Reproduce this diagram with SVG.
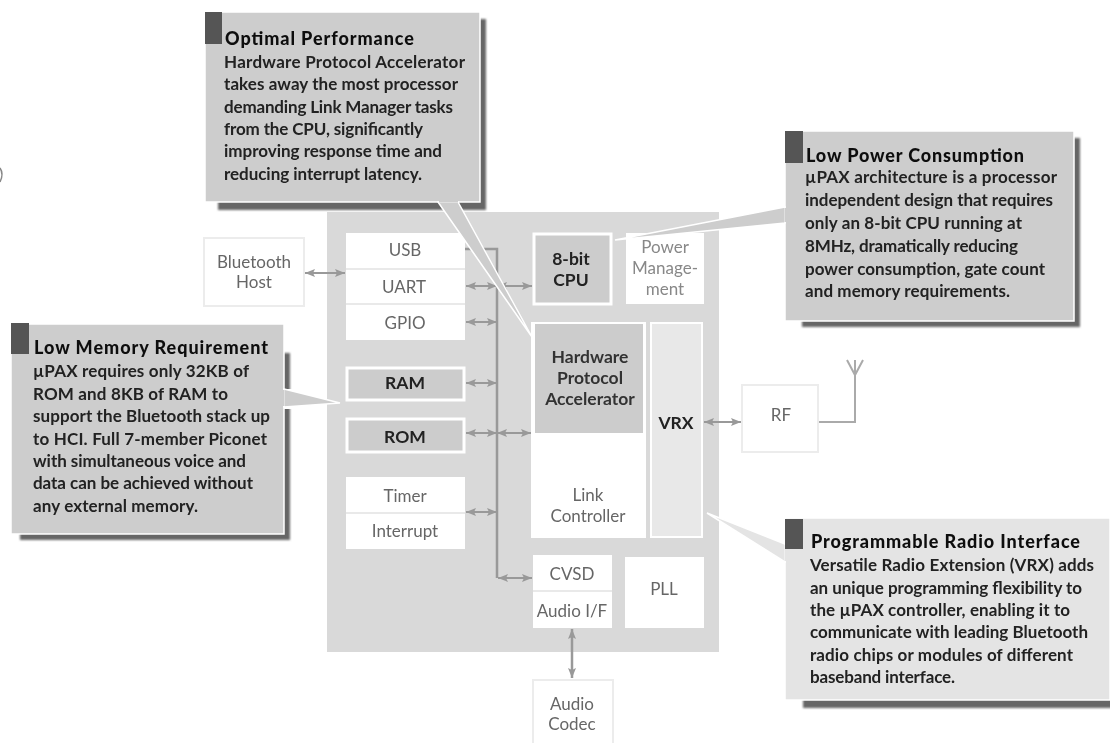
<svg xmlns="http://www.w3.org/2000/svg" width="1110" height="743" viewBox="0 0 1110 743">
<style>
text{font-family:Lato,"Liberation Sans",sans-serif}
.b{font-size:17px;fill:#222;font-weight:700;stroke:none}
.h{font-size:18px;fill:#111;font-weight:900}
.n{font-size:17px;fill:#666;text-anchor:middle}
.d{font-size:17.5px;fill:#222;text-anchor:middle;font-weight:700}
.w{fill:#fff}
.o{fill:#fff;stroke:#ececec;stroke-width:2}
.g{fill:#ccc;stroke:#fff;stroke-width:3}
.c{fill:#cdcdcd;stroke:#fff;stroke-width:1.5}
.s{fill:#666;filter:url(#sb)}
.k{fill:#555}
.p{fill:#cdcdcd;stroke:#fff;stroke-width:1.5}
.l{stroke:#e2e2e2;stroke-width:1.5}
.a{stroke:#999;stroke-width:2;fill:none;marker-start:url(#m);marker-end:url(#m)}
.t{stroke:#999;stroke-width:2.5;fill:none}
</style>
<defs>
<filter id="sb" x="-5%" y="-5%" width="110%" height="110%"><feGaussianBlur stdDeviation="1.2"/></filter>
<filter id="all" x="0" y="0" width="100%" height="100%"><feGaussianBlur stdDeviation="0.55"/></filter>
<marker id="m" markerWidth="11" markerHeight="8" refX="10" refY="4" orient="auto-start-reverse" markerUnits="userSpaceOnUse"><path d="M0 0L10 4L0 8L2 4Z" fill="#999"/></marker>
</defs>
<rect width="1110" height="743" fill="#fff"/>
<g filter="url(#all)">
<path d="M0 168Q4 174 0 182" fill="none" stroke="#888" stroke-width="1.5"/>
<rect id="chip" x="327" y="212" width="392" height="440" fill="#d9d9d9"/>

<g id="bluetooth-host"><rect class="o" x="204" y="238" width="100" height="68"/><text class="n" x="254" y="268">Bluetooth</text><text class="n" x="254" y="288">Host</text></g>
<g id="usb-uart-gpio"><rect class="w" x="346" y="233" width="119" height="107"/><path class="l" d="M346 269H465M346 304H465"/><text class="n" x="405" y="256">USB</text><text class="n" x="404" y="293">UART</text><text class="n" x="405" y="329">GPIO</text></g>
<g id="ram"><rect class="g" x="347" y="368" width="117" height="32"/><text class="d" x="405" y="389">RAM</text></g>
<g id="rom"><rect class="g" x="347" y="419" width="117" height="33"/><text class="d" x="405" y="443">ROM</text></g>
<g id="timer-interrupt"><rect class="w" x="346" y="477" width="119" height="72"/><path class="l" d="M346 513H465"/><text class="n" x="405" y="502">Timer</text><text class="n" x="405" y="537">Interrupt</text></g>
<g id="cpu"><rect class="g" x="534" y="234" width="77" height="70"/><text class="d" x="571" y="265">8-bit</text><text class="d" x="571" y="286">CPU</text></g>
<g id="power"><rect class="w" x="626" y="233" width="78" height="71"/><text class="n" x="665" y="253" style="fill:#888">Power</text><text class="n" x="665" y="274" style="fill:#888">Manage-</text><text class="n" x="665" y="295" style="fill:#888">ment</text></g>
<g id="link-controller"><rect class="w" x="531" y="322" width="115" height="216"/><rect x="535" y="324" width="108" height="109" fill="#ccc"/><text class="d" x="590" y="363" style="fill:#333">Hardware</text><text class="d" x="590" y="384" style="fill:#333">Protocol</text><text class="d" x="590" y="405" style="fill:#333">Accelerator</text><text class="n" x="588" y="501">Link</text><text class="n" x="588" y="522">Controller</text></g>
<g id="vrx"><rect x="651" y="323" width="51" height="214" fill="#e8e8e8" stroke="#fff" stroke-width="2"/><text class="d" x="676" y="429">VRX</text></g>
<g id="cvsd-audio"><rect class="w" x="533" y="555" width="79" height="73"/><path class="l" d="M533 591H612"/><text class="n" x="572" y="580">CVSD</text><text class="n" x="572" y="617">Audio I/F</text></g>
<g id="pll"><rect class="w" x="625" y="557" width="79" height="71"/><text class="n" x="664" y="595">PLL</text></g>
<g id="audio-codec"><rect class="o" x="533" y="680" width="80" height="70"/><text class="n" x="572" y="710">Audio</text><text class="n" x="572" y="730">Codec</text></g>
<g id="rf"><rect class="o" x="742" y="385" width="76" height="67"/><text class="n" x="781" y="421">RF</text></g>

<g id="connectors">
<path class="t" d="M465 249H497V578"/>
<path class="a" d="M305 273H345"/>
<path class="a" d="M466 286H497"/>
<path class="a" d="M497 286H532"/>
<path class="a" d="M466 322H497"/>
<path class="a" d="M466 383H497"/>
<path class="a" d="M466 433H497"/>
<path class="a" d="M497 433H531"/>
<path class="a" d="M466 512H497"/>
<path class="a" d="M498 578H532"/>
<path class="a" d="M704 422H741"/>
<path class="a" style="stroke-width:2.5" d="M572 629V678"/>
<path d="M819 422H855V375M847 360L855 375L863 360M855 375V360" fill="none" stroke="#aaa" stroke-width="2"/>
</g>

<g id="callout-performance">
<rect class="s" x="218" y="19" width="268" height="191"/>
<rect class="c" x="205" y="12" width="275" height="190"/>
<path class="p" d="M438 202L532 337L458 202Z"/>
<path d="M439 201L458 201" stroke="#cdcdcd" stroke-width="3"/>
<rect class="k" x="205" y="12" width="17" height="32"/>
<text class="h" x="225" y="45" textLength="189">Optimal Performance</text>
<text class="b" x="224" y="68" textLength="241">Hardware Protocol Accelerator</text>
<text class="b" x="224" y="90" textLength="234">takes away the most processor</text>
<text class="b" x="224" y="113" textLength="229">demanding Link Manager tasks</text>
<text class="b" x="224" y="135" textLength="199">from the CPU, significantly</text>
<text class="b" x="224" y="157" textLength="218">improving response time and</text>
<text class="b" x="224" y="180" textLength="198">reducing interrupt latency.</text>
</g>

<g id="callout-power">
<rect class="s" x="802" y="138" width="278" height="189"/>
<rect class="c" x="785" y="131" width="289" height="190"/>
<path class="p" d="M785 207L615 240L785 223Z"/>
<path d="M786 208V222" stroke="#cdcdcd" stroke-width="3"/>
<rect class="k" x="785" y="131" width="18" height="32"/>
<text class="h" x="806" y="162" textLength="218">Low Power Consumption</text>
<text class="b" x="805" y="183" textLength="252">µPAX architecture is a processor</text>
<text class="b" x="805" y="206" textLength="248">independent design that requires</text>
<text class="b" x="805" y="229" textLength="217">only an 8-bit CPU running at</text>
<text class="b" x="805" y="252" textLength="213">8MHz, dramatically reducing</text>
<text class="b" x="805" y="275" textLength="240">power consumption, gate count</text>
<text class="b" x="805" y="297" textLength="205">and memory requirements.</text>
</g>

<g id="callout-memory">
<rect class="s" x="20" y="353" width="270" height="187"/>
<rect x="284" y="389" width="10" height="20" fill="#fff"/>
<rect class="c" x="11" y="324" width="273" height="210"/>
<path class="p" d="M284 389L340 403L284 407Z"/>
<path d="M283 390V406" stroke="#cdcdcd" stroke-width="3"/>
<rect class="k" x="11" y="323" width="18" height="31"/>
<text class="h" x="34" y="354" textLength="234">Low Memory Requirement</text>
<text class="b" x="33" y="377" textLength="216">µPAX requires only 32KB of</text>
<text class="b" x="33" y="400" textLength="195">ROM and 8KB of RAM to</text>
<text class="b" x="33" y="422" textLength="237">support the Bluetooth stack up</text>
<text class="b" x="33" y="445" textLength="234">to HCI. Full 7-member Piconet</text>
<text class="b" x="33" y="467" textLength="213">with simultaneous voice and</text>
<text class="b" x="33" y="489" textLength="220">data can be achieved without</text>
<text class="b" x="33" y="512" textLength="165">any external memory.</text>
</g>

<g id="callout-radio">
<rect class="s" x="803" y="530" width="320" height="178"/>
<rect x="785" y="518" width="325" height="182" fill="#e4e4e4" stroke="#fff" stroke-width="1.5"/>
<path d="M785 544L707 513L785 562Z" fill="#e4e4e4" stroke="#fff" stroke-width="1.5"/>
<path d="M786 545V561" stroke="#e4e4e4" stroke-width="3"/>
<rect class="k" x="785" y="519" width="18" height="30"/>
<text class="h" x="811" y="548" textLength="269">Programmable Radio Interface</text>
<text class="b" x="810" y="571" textLength="284">Versatile Radio Extension (VRX) adds</text>
<text class="b" x="810" y="594" textLength="272">an unique programming flexibility to</text>
<text class="b" x="810" y="616" textLength="260">the µPAX controller, enabling it to</text>
<text class="b" x="810" y="638" textLength="278">communicate with leading Bluetooth</text>
<text class="b" x="810" y="661" textLength="263">radio chips or modules of different</text>
<text class="b" x="810" y="683" textLength="145">baseband interface.</text>
</g>
</g>
</svg>
